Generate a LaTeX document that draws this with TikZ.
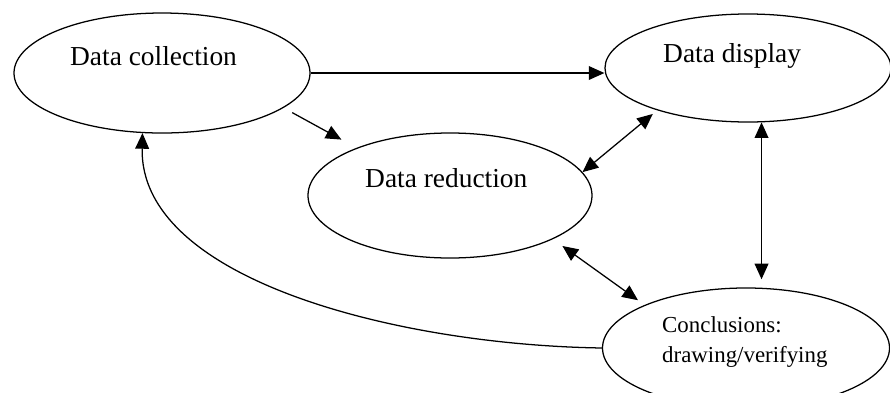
\documentclass[tikz,border=0pt]{standalone}
\usepackage{fontspec}
\setmainfont{Liberation Serif}
\usepackage{tikz}
\usetikzlibrary{shapes.geometric,arrows.meta}

\begin{document}
\begin{tikzpicture}[
	stage/.style={draw,black,line width=1.2pt,ellipse,inner sep=0pt},
	txt/.style={anchor=base west,inner sep=0pt,font=\fontsize{26}{31}\selectfont},
	arr/.style={black,line width=1.2pt,-{Triangle[length=0.52cm,width=0.46cm]}},
	biarr/.style={black,line width=1.2pt,{Triangle[length=0.52cm,width=0.46cm]}-{Triangle[length=0.52cm,width=0.46cm]}}
]
\useasboundingbox (0,0) rectangle (29.667,13.067);

\node[stage,minimum width=9.867cm,minimum height=4cm] (dc) at (5.4,10.633) {};
\node[stage,minimum width=9.533cm,minimum height=3.6cm] (dd) at (24.933,10.8) {};
\node[stage,minimum width=9.467cm,minimum height=4.167cm] (dr) at (15,6.55) {};
\node[stage,minimum width=9.567cm,minimum height=4cm] (cv) at (24.867,1.467) {};

\node[txt] (dctext) at (2.333,10.9) {Data collection};
\node[txt] (ddtext) at (22.1,10.967) {Data display};
\node[txt] (drtext) at (12.167,6.833) {Data reduction};
\node[txt,font=\fontsize{21.7}{27.5}\selectfont] (cvtext) at (22.067,1.967) {Conclusions:};
\node[txt,font=\fontsize{21.7}{27.5}\selectfont] (cvtextb) at (22.067,1.0) {drawing/verifying};

% arrows
\draw[arr] (dc.east) -- (dc.east -| dd.west);
\draw[arr,shorten <=0.33cm,shorten >=0.57cm] (dc.-16) -- (dr.153);
\draw[biarr,shorten <=0.19cm] (dd.-155) -- (dr.10);
\draw[biarr,shorten <=0.39cm,shorten >=0.27cm] (dr.-23) -- (cv.157);
\draw[biarr,shorten >=0.27cm] (dd.-76) -- (dd.-76 |- cv.north);
\draw[arr] (cv.west) .. controls +(-6.77,0.1) and +(-0.1,-4.9) .. (dc.-108);

\end{tikzpicture}
\end{document}
